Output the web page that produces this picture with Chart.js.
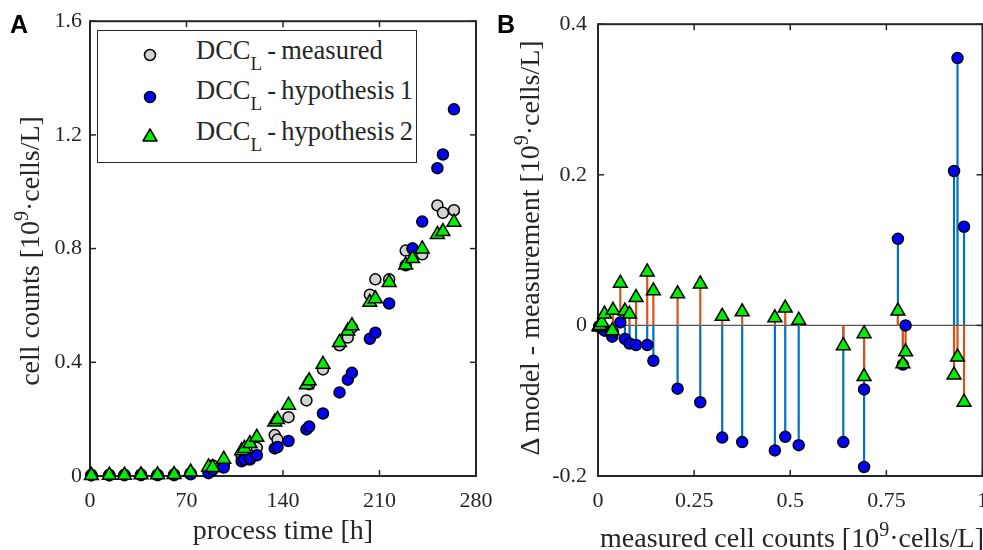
<!DOCTYPE html>
<html>
<head>
<meta charset="utf-8">
<script src="https://cdn.jsdelivr.net/npm/chart.js@4.4.1/dist/chart.umd.min.js"></script>
<style>
html, body { margin: 0; padding: 0; background: #fff; overflow: hidden; }
#wrap { position: relative; width: 983px; height: 550px; overflow: hidden;
	font-family: "Liberation Serif", "Times New Roman", serif; color: #262626; }
canvas { position: absolute; top: 0; }
#cA { left: 0; }
#cB { left: 490px; }
.t { position: absolute; white-space: nowrap; line-height: 1; font-size: 28px; }
.sup { font-size: 20px; position: relative; top: -11px; }
.sub { font-size: 19px; position: relative; top: 11px; }
.letter { position: absolute; font-family: "Liberation Sans", Arial, sans-serif; font-weight: bold;
	font-size: 25px; line-height: 1; color: #000; }
#legend { position: absolute; left: 97px; top: 30px; width: 320px; height: 133px; box-sizing: border-box;
	border: 1.5px solid #262626; background: #fff; }
#legend svg { position: absolute; left: 0; top: 0; }
#legend .t { font-size: 26.5px; word-spacing: -1.5px; }
</style>
</head>
<body>
<div id="wrap">
	<canvas id="cA" width="510" height="550"></canvas>
	<canvas id="cB" width="510" height="550"></canvas>

	<div class="letter" style="left:10px; top:12px;">A</div>
	<div class="letter" style="left:497px; top:12px;">B</div>

	<div id="legend">
		<svg width="320" height="133">
			<circle cx="52" cy="24" r="5.5" fill="#d3d3d3" stroke="#000" stroke-width="1.5"/>
			<circle cx="52" cy="66" r="5.5" fill="#0000ff" stroke="#000" stroke-width="1.5"/>
			<polygon points="52,98 59,110 45,110" fill="#00ee00" stroke="#000" stroke-width="1.5" stroke-linejoin="round"/>
		</svg>
		<div class="t" style="left:98px; top:6px;">DCC<span class="sub">L</span> - measured</div>
		<div class="t" style="left:98px; top:46px;">DCC<span class="sub">L</span> - hypothesis 1</div>
		<div class="t" style="left:98px; top:87px;">DCC<span class="sub">L</span> - hypothesis 2</div>
	</div>

	<div class="t" style="left:30px; top:251px; transform:translate(-50%,-50%) rotate(-90deg);">cell counts [10<span class="sup">9</span>·cells/L]</div>
	<div class="t" style="left:283px; top:516px; transform:translateX(-50%);">process time [h]</div>
	<div class="t" style="left:530px; top:248px; transform:translate(-50%,-50%) rotate(-90deg);">Δ model - measurement [10<span class="sup">9</span>·cells/L]</div>
	<div class="t" style="left:792px; top:524px; transform:translateX(-50%);">measured cell counts [10<span class="sup">9</span>·cells/L]</div>
</div>

<script>
// process time [h] of each sample
const hours = [1, 14, 25, 37, 49, 61, 73, 86, 89, 97, 110, 112, 116, 121, 134, 136, 144, 157, 159, 169,
	181, 187, 190, 203, 207, 217, 229, 234, 241, 252, 256, 264];
// DCC_L measured [10^9 cells/L]
const measured = [0.004, 0.004, 0.004, 0.005, 0.004, 0.005, 0.010, 0.017, 0.037, 0.039, 0.070, 0.082, 0.058, 0.099,
	0.144, 0.128, 0.207, 0.266, 0.323, 0.375, 0.460, 0.487, 0.522, 0.638, 0.692, 0.692, 0.793, 0.800, 0.780,
	0.952, 0.926, 0.935];
// model, hypothesis 1
const hyp1 = [0.002, 0.002, 0.003, 0.003, 0.003, 0.003, 0.006, 0.010, 0.022, 0.030, 0.052, 0.058, 0.062, 0.073,
	0.097, 0.102, 0.123, 0.164, 0.174, 0.220, 0.294, 0.339, 0.363, 0.483, 0.504, 0.607, 0.741, 0.800, 0.895,
	1.083, 1.131, 1.290];
// model, hypothesis 2
const hyp2 = [0.002, 0.003, 0.003, 0.004, 0.004, 0.005, 0.014, 0.032, 0.030, 0.059, 0.089, 0.097, 0.114, 0.136,
	0.190, 0.199, 0.249, 0.321, 0.335, 0.393, 0.470, 0.510, 0.529, 0.611, 0.624, 0.681, 0.742, 0.765, 0.799,
	0.850, 0.860, 0.893];

const xTicksA = [0, 70, 140, 210, 280];
const yTicksA = [0, 0.4, 0.8, 1.2, 1.6];
const xTicksB = [0, 0.25, 0.5, 0.75, 1];
const yTicksB = [-0.2, 0, 0.2, 0.4];

const AXIS = '#262626';
const GREY = '#d3d3d3', BLUE = '#0000ff', GREEN = '#00ee00';
const STEM1 = '#0072bd', STEM2 = '#d95319';
const tickFont = { family: '"Liberation Serif", "Times New Roman", serif', size: 22 };

// matlab style box with inward ticks on all four sides
const boxPlugin = {
	id: 'mbox',
	beforeDatasetsDraw(chart, args, opts) {
		const { ctx, chartArea: a, scales: { x, y } } = chart;
		const line = (x1, y1, x2, y2) => { ctx.beginPath(); ctx.moveTo(x1, y1); ctx.lineTo(x2, y2); ctx.stroke(); };
		ctx.save();
		if (opts.zeroLine) {
			const y0 = y.getPixelForValue(0);
			ctx.strokeStyle = '#555';
			ctx.lineWidth = 1.2;
			line(a.left, y0, a.right, y0);
		}
		ctx.strokeStyle = AXIS;
		ctx.lineWidth = 1.5;
		x.ticks.forEach(t => {
			const px = x.getPixelForValue(t.value);
			line(px, a.bottom, px, a.bottom - 6);
			line(px, a.top, px, a.top + 6);
		});
		y.ticks.forEach(t => {
			const py = y.getPixelForValue(t.value);
			line(a.left, py, a.left + 6, py);
			line(a.right, py, a.right - 6, py);
		});
		ctx.lineWidth = 2;
		ctx.strokeRect(a.left, a.top, a.right - a.left, a.bottom - a.top);
		ctx.restore();
	}
};

function makeScales(xt, yt, yWidth, yPad) {
	const fixed = vals => scale => { scale.ticks = vals.map(v => ({ value: v })); };
	const label = v => String(v);
	return {
		x: {
			type: 'linear', min: xt[0], max: xt[xt.length - 1],
			afterBuildTicks: fixed(xt),
			afterFit: s => { s.height = 74; },
			grid: { display: false, drawTicks: false },
			border: { display: false },
			ticks: { font: tickFont, color: AXIS, padding: 12, maxRotation: 0, autoSkip: false, callback: label }
		},
		y: {
			type: 'linear', min: yt[0], max: yt[yt.length - 1],
			afterBuildTicks: fixed(yt),
			afterFit: s => { s.width = yWidth; },
			grid: { display: false, drawTicks: false },
			border: { display: false },
			ticks: { font: tickFont, color: AXIS, padding: yPad, autoSkip: false, callback: label }
		}
	};
}

function markers(data, fill, style, order) {
	return {
		data, order, showLine: false, clip: false,
		pointStyle: style, pointRadius: style === 'triangle' ? 8 : 5.5,
		pointBackgroundColor: fill, pointBorderColor: '#000', pointBorderWidth: 1.5
	};
}

// panel A: cell counts over process time
const ptsMeasured = hours.map((h, i) => ({ x: h, y: measured[i] }));
const ptsHyp1 = hours.map((h, i) => ({ x: h, y: hyp1[i] }));
const ptsHyp2 = hours.map((h, i) => ({ x: h, y: hyp2[i] }));

new Chart(document.getElementById('cA'), {
	type: 'scatter',
	data: {
		datasets: [
			markers(ptsMeasured, GREY, 'circle', 3),
			markers(ptsHyp1, BLUE, 'circle', 2),
			markers(ptsHyp2, GREEN, 'triangle', 1)
		]
	},
	options: {
		responsive: false, animation: false, devicePixelRatio: 1,
		layout: { padding: { top: 21, right: 34, bottom: 0, left: 0 } },
		plugins: { legend: { display: false }, tooltip: { enabled: false }, mbox: {} },
		scales: makeScales(xTicksA, yTicksA, 90, 8)
	},
	plugins: [boxPlugin]
});

// panel B: model - measurement against measured value
const delta1 = measured.map((m, i) => hyp1[i] - m);
const delta2 = measured.map((m, i) => hyp2[i] - m);
const stems = d => measured.flatMap((m, i) => [{ x: m, y: 0 }, { x: m, y: d[i] }, { x: m, y: null }]);

new Chart(document.getElementById('cB'), {
	type: 'scatter',
	data: {
		datasets: [
			{ data: stems(delta1), showLine: true, spanGaps: false, borderColor: STEM1, borderWidth: 2.2,
				pointRadius: 0, clip: false, order: 4 },
			{ data: stems(delta2), showLine: true, spanGaps: false, borderColor: STEM2, borderWidth: 2.2,
				pointRadius: 0, clip: false, order: 3 },
			markers(measured.map((m, i) => ({ x: m, y: delta1[i] })), BLUE, 'circle', 2),
			markers(measured.map((m, i) => ({ x: m, y: delta2[i] })), GREEN, 'triangle', 1)
		]
	},
	options: {
		responsive: false, animation: false, devicePixelRatio: 1,
		layout: { padding: { top: 22, right: 15, bottom: 0, left: 0 } },
		plugins: { legend: { display: false }, tooltip: { enabled: false }, mbox: { zeroLine: true } },
		scales: makeScales(xTicksB, yTicksB, 108, 11)
	},
	plugins: [boxPlugin]
});
</script>
</body>
</html>
